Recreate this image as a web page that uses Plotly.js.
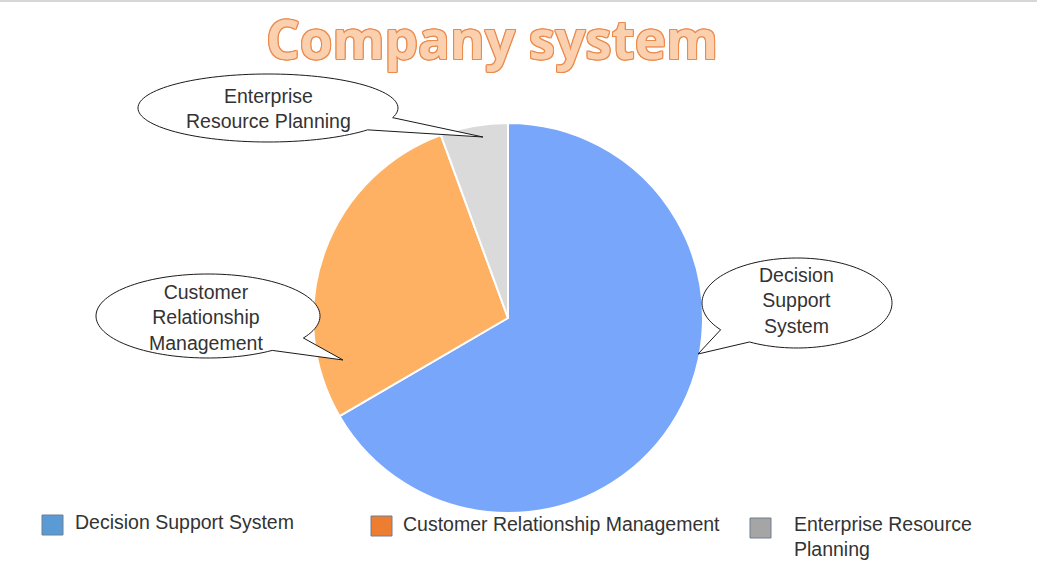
<!DOCTYPE html>
<html>
<head>
<meta charset="utf-8">
<script src="https://cdn.plot.ly/plotly-3.0.1.min.js"></script>
<style>
html,body{margin:0;padding:0;background:#fff;}
#chart{width:1037px;height:585px;}
</style>
</head>
<body>
<div id="chart"></div>
<script>
// ---- data ----
const categories = ["Decision Support System", "Customer Relationship Management", "Enterprise Resource Planning"];
const values = [66.6, 27.8, 5.6];
const calloutLabels = ["Decision<br>Support<br>System", "Customer<br>Relationship<br>Management", "Enterprise<br>Resource Planning"];
const legendLabels = ["Decision Support System", "Customer Relationship Management", "Enterprise Resource<br>Planning"];
const sliceColors = ["#78A6FA", "#FFB163", "#DADADA"];
const legendColors = ["#5B9BD5", "#ED7D31", "#A5A5A5"];
const titleText = "Company system";

// ---- layout helpers (pixel -> paper) ----
const W = 1037, H = 585;
const px = x => x / W;
const py = y => 1 - y / H;

function bubblePath(cx, cy, rx, ry, t0, t1, tip) {
  const n = 120;
  let d = "";
  for (let i = 0; i <= n; i++) {
    const t = (t0 + (t1 - t0) * i / n) * Math.PI / 180;
    const x = cx + rx * Math.cos(t), y = cy + ry * Math.sin(t);
    d += (i === 0 ? "M" : "L") + px(x).toFixed(5) + "," + py(y).toFixed(5);
  }
  d += "L" + px(tip[0]).toFixed(5) + "," + py(tip[1]).toFixed(5) + "Z";
  return d;
}

// bubble geometry (pixels)
const bubbles = [
  {cx: 797, cy: 303, rx: 95, ry: 45, t0: 120, t1: -216.5, tip: [698, 354], tx: 796, ty: 301},
  {cx: 208, cy: 316, rx: 112, ry: 42, t0: 31.6, t1: -305, tip: [343, 360], tx: 206, ty: 317},
  {cx: 268, cy: 108, rx: 130, ry: 34, t0: 16.5, t1: -320, tip: [483, 137], tx: 268, ty: 108}
];

const textFont = {family: "Liberation Sans, Arial, sans-serif", size: 19.5, color: "#333333"};

const shapes = [
  {type: "line", xref: "paper", yref: "paper", x0: 0, x1: 1, y0: py(1), y1: py(1), line: {color: "#C8C8C8", width: 1.5}}
];
const annotations = [];

bubbles.forEach((b, i) => {
  shapes.push({type: "path", xref: "paper", yref: "paper", path: bubblePath(b.cx, b.cy, b.rx, b.ry, b.t0, b.t1, b.tip),
    fillcolor: "#FFFFFF", line: {color: "#1A1A1A", width: 1}, layer: "above"});
  annotations.push({xref: "paper", yref: "paper", x: px(b.tx), y: py(b.ty), xanchor: "center", yanchor: "middle",
    text: calloutLabels[i], showarrow: false, align: "center", font: textFont});
});

// legend (custom, colours differ from slices in reference)
const legendPos = [
  {sx: 42, sy: 515, tx: 73, ty: 522},
  {sx: 371, sy: 516, tx: 401, ty: 524},
  {sx: 750, sy: 518, tx: 792, ty: 536}
];
legendPos.forEach((p, i) => {
  shapes.push({type: "rect", xref: "paper", yref: "paper", x0: px(p.sx), x1: px(p.sx + 21), y0: py(p.sy), y1: py(p.sy + 20),
    fillcolor: legendColors[i], line: {color: "#6E7F96", width: 1}});
  annotations.push({xref: "paper", yref: "paper", x: px(p.tx), y: py(p.ty), xanchor: "left", yanchor: "middle",
    text: legendLabels[i], showarrow: false, align: "left", font: textFont});
});

const cx = 508, cy = 318, r = 195;
const data = [{
  type: "pie",
  labels: categories,
  values: values,
  sort: false,
  direction: "clockwise",
  rotation: 0,
  marker: {colors: sliceColors, line: {color: "#FFFFFF", width: 2}},
  textinfo: "none",
  hoverinfo: "label+percent",
  domain: {x: [px(cx - r), px(cx + r)], y: [py(cy + r), py(cy - r)]},
  showlegend: false
}];

const oc = "#EC8A4C";
const outline = ["1px 0 0 ", "-1px 0 0 ", "0 1px 0 ", "0 -1px 0 ", "1px 1px 0 ", "-1px -1px 0 ", "1px -1px 0 ", "-1px 1px 0 "]
  .map(s => s + oc).join(", ");

const layout = {
  width: W, height: H,
  margin: {l: 0, r: 0, t: 0, b: 0},
  paper_bgcolor: "#FFFFFF",
  showlegend: false,
  title: {text: titleText, x: px(492), xanchor: "center", xref: "paper", y: py(40), yanchor: "middle", yref: "paper",
    font: {family: "Open Sans, Noto Sans, sans-serif", size: 53, color: "#FAD0AE", weight: 700, shadow: outline}},
  shapes: shapes,
  annotations: annotations
};

Plotly.newPlot("chart", data, layout, {displayModeBar: false, staticPlot: true});
</script>
</body>
</html>
